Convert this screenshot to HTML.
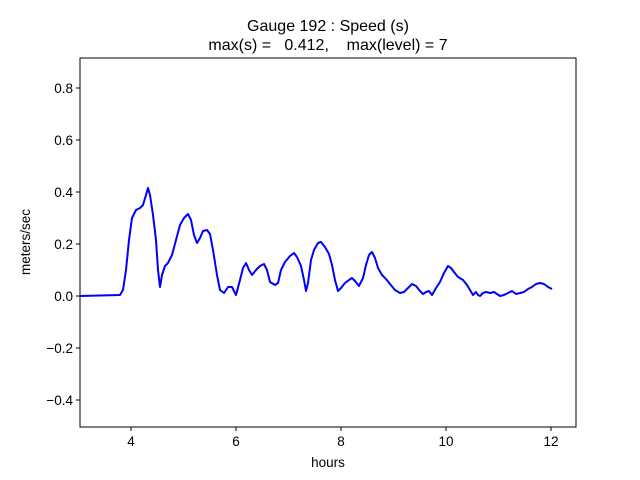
<!DOCTYPE html>
<html><head><meta charset="utf-8"><style>
html,body{margin:0;padding:0;background:#fff;}
svg{display:block;font-family:"Liberation Sans","DejaVu Sans",sans-serif;}
</style></head><body>
<svg width="640" height="480" viewBox="0 0 640 480" xmlns="http://www.w3.org/2000/svg">
<rect width="640" height="480" fill="#fff"/>
<text x="328" y="31" font-size="16" text-anchor="middle">Gauge 192 : Speed (s)</text>
<text x="328" y="50" font-size="16" text-anchor="middle" xml:space="preserve">max(s) =   0.412,    max(level) = 7</text>
<clipPath id="c"><rect x="80" y="58" width="496" height="369"/></clipPath>
<polyline clip-path="url(#c)" fill="none" stroke="#0000ff" stroke-width="2" stroke-linejoin="round" points="80,296 120,295 123,290 126,270 129,240 132,218 136,210 140,208 143,205 146,195 148,188 150,195 153,215 156,240 158,270 160,287 162,275 165,266 168,263 172,255 176,240 180,225 184,218 188,214 191,220 194,235 197,243 200,238 203,231 207,230 210,234 213,250 217,275 220,290 224,293 228,287 232,287 236,295 240,280 243,268 246,263 249,270 252,275 256,270 260,266 264,264 267,270 270,282 275,285 278,283 281,270 285,262 290,256 294,253 297,257 301,266 304,280 306,291 308,283 311,260 314,250 318,243 321,242 325,247 329,254 332,265 335,280 338,291 341,288 345,283 349,280 352,278 355,281 359,286 363,278 366,265 369,255 372,252 375,258 378,268 382,275 386,279 390,284 395,290 400,293 404,292 408,288 412,284 416,286 420,291 423,294 426,292 429,291 432,295 436,288 440,282 444,273 448,266 451,268 454,272 458,277 463,280 467,285 470,290 473,295 476,292 478,295 480,296 483,293 486,292 490,293 494,292 497,294 500,296 504,295 508,293 512,291 516,294 520,293 524,292 528,289 532,287 536,284 540,283 544,284 548,287 552,289"/>
<rect x="80" y="58" width="496" height="369" fill="none" stroke="#000" stroke-width="1"/>
<g stroke="#000" stroke-width="1">
<line x1="131" y1="427" x2="131" y2="431"/><line x1="236" y1="427" x2="236" y2="431"/><line x1="341" y1="427" x2="341" y2="431"/><line x1="446" y1="427" x2="446" y2="431"/><line x1="551" y1="427" x2="551" y2="431"/>
<line x1="76" y1="400" x2="80" y2="400"/><line x1="76" y1="348" x2="80" y2="348"/><line x1="76" y1="296" x2="80" y2="296"/><line x1="76" y1="244" x2="80" y2="244"/><line x1="76" y1="192" x2="80" y2="192"/><line x1="76" y1="140" x2="80" y2="140"/><line x1="76" y1="88" x2="80" y2="88"/>
</g>
<g font-size="13.5" text-anchor="middle">
<text x="131" y="446">4</text><text x="236" y="446">6</text><text x="341" y="446">8</text><text x="446" y="446">10</text><text x="551" y="446">12</text>
</g>
<g font-size="13.5" text-anchor="end">
<text x="73" y="405">−0.4</text><text x="73" y="353">−0.2</text><text x="73" y="301">0.0</text><text x="73" y="249">0.2</text><text x="73" y="197">0.4</text><text x="73" y="145">0.6</text><text x="73" y="93">0.8</text>
</g>
<text x="328" y="467" font-size="13.5" text-anchor="middle">hours</text>
<text transform="translate(30,242) rotate(-90)" font-size="13.5" text-anchor="middle">meters/sec</text>
</svg>
</body></html>
